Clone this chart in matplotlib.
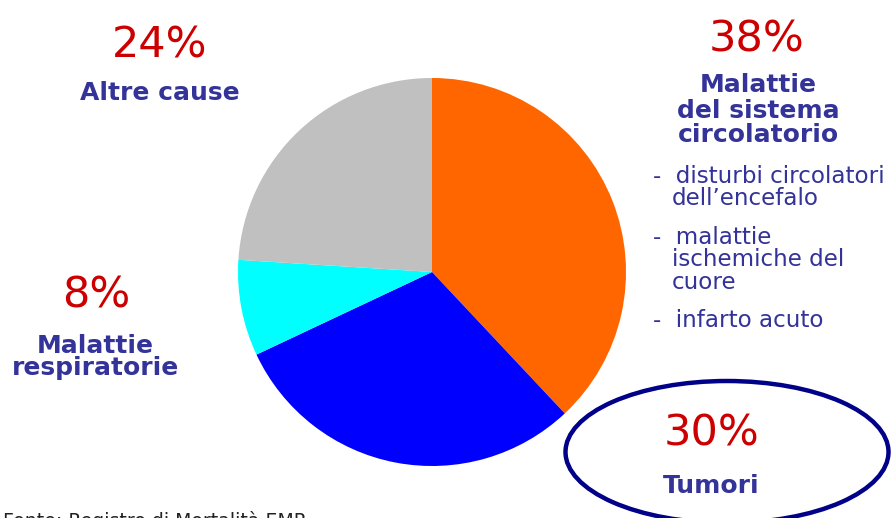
import matplotlib.pyplot as plt
from matplotlib.patches import Ellipse

# ── Data ──────────────────────────────────────────────────────────────────
shares  = [38, 30, 8, 24]
colors  = ["#FF6600", "#0000FF", "#00FFFF", "#C0C0C0"]
pct_txt = ["38%", "30%", "8%", "24%"]
labels  = ["Malattie\ndel sistema\ncircolatorio", "Tumori",
           "Malattie\nrespiratorie", "Altre cause"]
sub_items = [["-  disturbi circolatori", "dell\u2019encefalo"],
             ["-  malattie", "ischemiche del", "cuore"],
             ["-  infarto acuto"]]
source = "Fonte: Registro di Mortalit\u00e0 EMR"

W, H = 891, 518
RED, NAVY = "#CC0000", "#333399"

fig = plt.figure(figsize=(W / 100, H / 100), dpi=100)
ax = fig.add_axes([0, 0, 1, 1])

# ── Pie (pixel coords, y up) ──────────────────────────────────────────────
ax.pie(shares, colors=colors, startangle=90, counterclock=False,
       center=(432, H - 272), radius=194,
       wedgeprops=dict(linewidth=0))
ax.set_xlim(0, W)
ax.set_ylim(0, H)
ax.set_aspect("equal")
ax.axis("off")

def put(x, y_top, s, **kw):
    ax.text(x, H - y_top, s, va="baseline", **kw)

# percentages + category labels  (x, baseline of %, baseline of label lines)
pct_pos = [(757, 52), (712, 446), (96, 307), (160, 58)]
lab_pos = [(758, [92, 118, 142]), (711, [493]), (95, [353, 375]), (160, [100])]
for i in range(4):
    x, yb = pct_pos[i]
    put(x, yb, pct_txt[i], ha="center", fontsize=31, color=RED)
    lx, ybs = lab_pos[i]
    for line, yl in zip(labels[i].split("\n"), ybs):
        put(lx, yl, line, ha="center", fontsize=18, fontweight="bold", color=NAVY)

# sub items of the circulatory slice
item_y = [[183, 205], [244, 266, 289], [327]]
for lines, ys in zip(sub_items, item_y):
    for j, (line, yl) in enumerate(zip(lines, ys)):
        put(653 if j == 0 else 672, yl, line, ha="left", fontsize=16.6, color=NAVY)

# ellipse around "Tumori"
ax.add_patch(Ellipse((727, H - 452), 323, 142, fill=False,
                     edgecolor="#000088", linewidth=3.2))

# source note, mostly cut off by the bottom edge as in the original
put(3, 527, source, ha="left", fontsize=13.6, color="#222222")

fig.savefig("out.png", dpi=100)
